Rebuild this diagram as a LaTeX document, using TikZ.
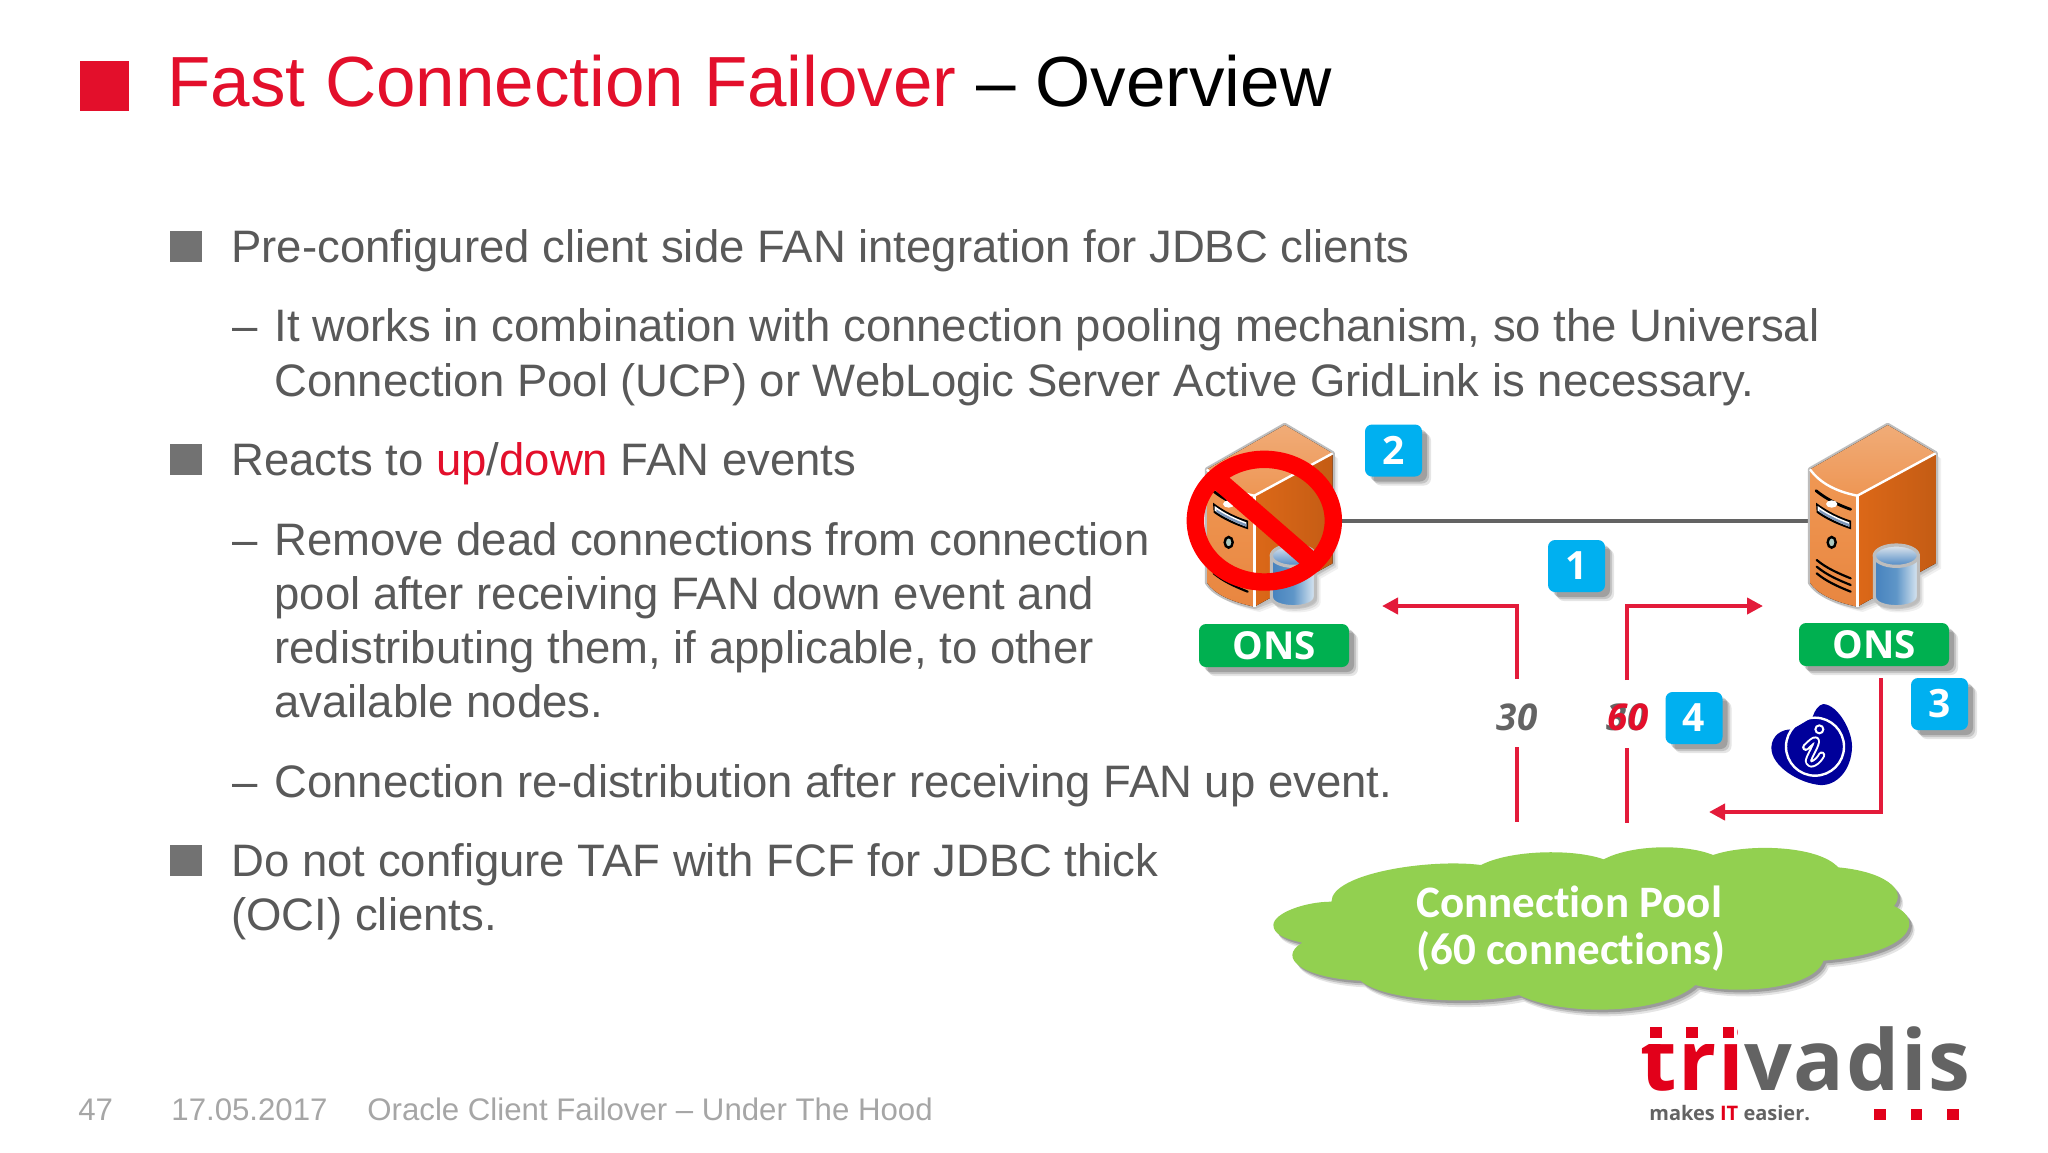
\documentclass[tikz,border=0pt]{standalone}
\usepackage{fontspec}
\setmainfont{Liberation Sans}
\newfontfamily\opensans{Open Sans}
\newfontfamily\logofont[LetterSpace=2.2]{Open Sans}
\newfontfamily\cloudfont[Ligatures=NoCommon]{Carlito}
\usetikzlibrary{arrows.meta}
\definecolor{bodygray}{HTML}{595959}
\definecolor{footgray}{HTML}{A6A6A6}
\definecolor{tvred}{HTML}{E30F2B}
\definecolor{lnred}{HTML}{E31B3A}
\definecolor{logored}{HTML}{E2001A}
\definecolor{logogray}{HTML}{636363}
\definecolor{onsgreen}{HTML}{00B050}
\definecolor{numblue}{HTML}{00B0F0}
\definecolor{cloudgreen}{HTML}{92D050}
\definecolor{infoblue}{HTML}{00009A}
\definecolor{halo}{HTML}{BDBDBD}
\definecolor{rfA}{HTML}{DC6818}
\definecolor{rfB}{HTML}{C45C14}
\definecolor{ffA}{HTML}{F09854}
\definecolor{ffB}{HTML}{E88640}
\definecolor{tfA}{HTML}{F0AC78}
\definecolor{tfB}{HTML}{EE9654}
\definecolor{slotblue}{HTML}{7D96B9}
\definecolor{btn}{HTML}{AAC8BE}
\definecolor{cyA}{HTML}{4682BE}
\definecolor{cyB}{HTML}{5F96C8}
\definecolor{cyC}{HTML}{DCE8F2}
\definecolor{ctA}{HTML}{E2E8EE}
\definecolor{ctB}{HTML}{4B87C3}
\tikzset{
  softshadow/.style={
    preaction={fill=black,opacity=.10,draw=none,transform canvas={shift={(4.5pt,-4.5pt)}}},
    preaction={fill=black,opacity=.14,draw=none,transform canvas={shift={(3.5pt,-3.5pt)}}},
    preaction={fill=black,opacity=.18,draw=none,transform canvas={shift={(2.5pt,-2.5pt)}}}},
  bodytext/.style={anchor=base west,inner sep=0pt,text=bodygray,font=\fontsize{22.75}{27}\selectfont},
  foottext/.style={anchor=base west,inner sep=0pt,text=footgray,font=\fontsize{15.6}{19}\selectfont},
  titletext/.style={anchor=base west,inner sep=0pt,font=\fontsize{35.5}{42}\selectfont},
  sqbullet/.style={fill=#1,draw=none},
  numbadge/.style={fill=numblue,rounded corners=3.5pt,minimum width=28.5pt,minimum height=26pt,inner sep=0pt,
    text=white,font=\opensans\bfseries\fontsize{19.5}{22}\selectfont,softshadow},
  onsbadge/.style={fill=onsgreen,rounded corners=3.5pt,minimum width=75pt,minimum height=21.5pt,inner sep=0pt,
    text=white,font=\opensans\bfseries\fontsize{19.3}{22}\selectfont,softshadow},
  countlabel/.style={inner sep=0pt,font=\opensans\bfseries\itshape\fontsize{18.4}{21}\selectfont},
  cloudtext/.style={anchor=base west,inner sep=0pt,text=white,font=\cloudfont\bfseries\fontsize{22.5}{27}\selectfont},
  redline/.style={draw=lnred,line width=2pt},
  redarrow/.style={redline,-{Triangle[length=8pt,width=8pt]}},
  linkline/.style={draw=logogray,line width=2pt}
}
\newcommand{\serverpic}{%
  % soft shadow
  \foreach \d/\o in {16/.06,11/.08,6/.10}{
    \fill[black,opacity=\o,shift={(\d,\d)}]
      (180,178) -- (413,45) -- (557,130) -- (557,460) -- (505,490) -- (505,560)
      .. controls (505,600) and (373,600) .. (373,570) -- (322,590)
      .. controls (250,575) and (200,550) .. (180,518) -- cycle;
  }
  % halo
  \draw[halo,line width=2.2pt,line join=round,fill=halo]
    (180,178) -- (413,45) -- (557,130) -- (557,460) -- (322,590)
    .. controls (250,575) and (200,550) .. (180,518) -- cycle;
  % right face
  \fill[left color=rfA,right color=rfB]
    (322,257) -- (557,130) -- (557,460) -- (322,590) -- cycle;
  % front face
  \fill[top color=ffA,bottom color=ffB]
    (180,178) .. controls (210,220) and (260,245) .. (322,257) -- (322,590)
    .. controls (250,575) and (200,550) .. (180,518) -- cycle;
  % top face
  \fill[top color=tfA,bottom color=tfB]
    (180,178) -- (413,45) -- (557,130) -- (322,257)
    .. controls (260,245) and (210,220) .. (180,178) -- cycle;
  \draw[white,line width=1.2pt] (180,178) .. controls (210,220) and (260,245) .. (322,257) -- (557,130);
  \draw[white,line width=1.2pt] (322,257) -- (322,590);
  % drive slots
  \draw[black,line width=1.4pt,line cap=round] (198,242) .. controls (230,268) and (265,285) .. (302,298);
  \fill[white] (245,282) ellipse [x radius=17,y radius=11];
  \fill[black] (198,278) .. controls (230,302) and (265,320) .. (303,332) -- (303,358)
    .. controls (265,345) and (230,330) .. (200,308) -- cycle;
  \fill[white] (203,288) .. controls (232,310) and (265,325) .. (298,337) -- (298,350)
    .. controls (265,338) and (232,322) .. (203,302) -- cycle;
  \fill[slotblue] (208,298) .. controls (235,316) and (265,330) .. (298,342) -- (298,350)
    .. controls (265,338) and (232,322) .. (208,306) -- cycle;
  \draw[black,line width=1.2pt,fill=btn] (245,397) ellipse [x radius=12,y radius=16];
  % vents
  \draw[black,line width=1.1pt,line cap=round] (200,450) .. controls (230,475) and (265,490) .. (302,505);
  \draw[black,line width=1.1pt,line cap=round] (200,470) .. controls (230,495) and (265,510) .. (302,525);
  \draw[black,line width=1.1pt,line cap=round] (200,490) .. controls (230,515) and (265,530) .. (302,545);
  % cylinder
  \draw[halo,line width=1.6pt,left color=cyA,right color=cyC,middle color=cyB]
    (373,437) -- (373,560) .. controls (373,600) and (505,600) .. (505,560) -- (505,437) -- cycle;
  \draw[halo,line width=1.6pt,top color=ctA,bottom color=ctB]
    (439,437) ellipse [x radius=66,y radius=32];
}
\newcommand{\cloudpath}{(30,285) .. controls (30,250) and (100,215) .. (160,215)
  .. controls (160,130) and (380,85) .. (495,105)
  .. controls (560,60) and (700,55) .. (770,88)
  .. controls (830,45) and (950,40) .. (1015,75)
  .. controls (1090,40) and (1250,45) .. (1295,112)
  .. controls (1400,125) and (1450,180) .. (1420,228)
  .. controls (1490,270) and (1460,370) .. (1262,392)
  .. controls (1240,480) and (1060,495) .. (975,465)
  .. controls (900,555) and (680,560) .. (580,495)
  .. controls (480,525) and (280,515) .. (225,452)
  .. controls (100,445) and (35,385) .. (95,338)
  .. controls (50,325) and (30,310) .. (30,285) -- cycle}
\begin{document}
\begin{tikzpicture}[x=0.5pt,y=-0.5pt]
\useasboundingbox (0,0) rectangle (2048,1152);
\fill[white] (0,0) rectangle (2048,1152);

% --- title ---
\fill[sqbullet=tvred] (80,61) rectangle (129,111);
\node[titletext] (title) at (167,106) {\textcolor{tvred}{Fast Connection Failover} \textcolor{black}{– Overview}};

% --- bullets ---
\fill[sqbullet=bodygray!85] (170,231) rectangle (202,262);
\fill[sqbullet=bodygray!85] (170,444) rectangle (202,475);
\fill[sqbullet=bodygray!85] (170,845) rectangle (202,876);
\node[bodytext] (b1) at (231,262) {Pre-configured client side FAN integration for JDBC clients};
\node[bodytext] (d1) at (232,341) {–};
\node[bodytext] (b1a) at (274,341) {It works in combination with connection pooling mechanism, so the Universal};
\node[bodytext] (b1b) at (274,396) {Connection Pool (UCP) or WebLogic Server Active GridLink is necessary.};
\node[bodytext] (b2) at (231,475) {Reacts to \textcolor{tvred}{up}/\textcolor{tvred}{down} FAN events};
\node[bodytext] (d2) at (232,555) {–};
\node[bodytext] (b2a) at (274,555) {Remove dead connections from connection};
\node[bodytext] (b2b) at (274,609) {pool after receiving FAN down event and};
\node[bodytext] (b2c) at (274,663) {redistributing them, if applicable, to other};
\node[bodytext] (b2d) at (274,717) {available nodes.};
\node[bodytext] (d3) at (232,797) {–};
\node[bodytext] (b2e) at (274,797) {Connection re-distribution after receiving FAN up event.};
\node[bodytext] (b3a) at (231,876) {Do not configure TAF with FCF for JDBC thick};
\node[bodytext] (b3b) at (231,930) {(OCI) clients.};

% --- footer ---
\node[foottext] (f1) at (78,1120) {47};
\node[foottext] (f2) at (171,1120) {17.05.2017};
\node[foottext] (f3) at (367,1120) {Oracle Client Failover – Under The Hood};

% --- servers ---
\coordinate (srvL) at (1342,521);
\coordinate (srvR) at (1808,521);
\draw[linkline] (srvL) -- (srvR);
\begin{scope}[shift={(1750,410)},scale=0.33333]
  \serverpic
\end{scope}
\begin{scope}[shift={(1147,410)},scale=0.33333]
  \serverpic
\end{scope}
% prohibition sign, in the left server's frame
\begin{scope}[shift={(1160,410)},scale=0.33333]
  \draw[red,line width=8.7pt] (313,332) ellipse [x radius=207,y radius=184];
  \draw[red,line width=9.4pt] (170,207) -- (455,455);
\end{scope}

% --- badges ---
\node[onsbadge] (onsL) at (1274,645.5) {\raisebox{-0.6pt}{ONS}};
\node[onsbadge] (onsR) at (1874,644.5) {\raisebox{-0.6pt}{ONS}};
\node[numbadge] (n2) at (1393.5,450.5) {\raisebox{-0.6pt}{2}};
\node[numbadge] (n1) at (1576.5,566) {\raisebox{-0.6pt}{1}};
\node[numbadge] (n4) at (1694,718) {\raisebox{-0.6pt}{4}};
\node[numbadge] (n3) at (1939.5,704) {\raisebox{-0.6pt}{3}};

% --- red connectors ---
\coordinate (a1) at (1517,679);
\coordinate (a2) at (1382,606);
\coordinate (a3) at (1517,747);
\coordinate (a4) at (1517,822);
\coordinate (b1s) at (1627,680);
\coordinate (b2s) at (1763,606);
\coordinate (b3s) at (1627,748);
\coordinate (b4s) at (1627,823);
\coordinate (c1) at (1881,678);
\coordinate (c2) at (1709,812);
\draw[redarrow] (a1) |- (a2);
\draw[redline] (a3) -- (a4);
\draw[redarrow] (b1s) |- (b2s);
\draw[redline] (b3s) -- (b4s);
\draw[redarrow] (c1) |- (c2);

\node[countlabel,text=logogray] (n30) at (1517,717) {30};
\node[countlabel,text=logogray] (n30b) at (1627,717) {30};
\node[countlabel,text=tvred] (n60) at (1628,717) {60};

% --- info icon ---
\begin{scope}[shift={(1480,660)},scale=0.33333]
  \fill[infoblue] (1030,132) .. controls (1075,135) and (1118,215) .. (1116,262)
    .. controls (1114,330) and (1070,378) .. (1020,375)
    .. controls (960,370) and (873,320) .. (874,262)
    .. controls (876,225) and (905,208) .. (935,208)
    .. controls (960,195) and (985,180) .. (998,170)
    .. controls (1005,150) and (1015,135) .. (1030,132) -- cycle;
  \draw[white,line width=1.2pt] (1005,260) circle [radius=87];
  \draw[white,line width=3.6pt,line cap=round,line join=round]
    (977,262) .. controls (990,250) and (1000,238) .. (1008,240)
    .. controls (1015,250) and (985,290) .. (985,305)
    .. controls (990,322) and (1015,305) .. (1025,285);
  \draw[infoblue,line width=1.6pt,line cap=round,line join=round]
    (977,262) .. controls (990,250) and (1000,238) .. (1008,240)
    .. controls (1015,250) and (985,290) .. (985,305)
    .. controls (990,322) and (1015,305) .. (1025,285);
  \draw[white,line width=1pt] (1018,208) circle [radius=12];
\end{scope}

% --- cloud ---
\begin{scope}[shift={(1260,830)},xscale=0.44643,yscale=0.33333]
  \begin{scope}[shift={(12,20)}]\fill[black,opacity=.10] \cloudpath;\end{scope}
  \begin{scope}[shift={(9,14)}]\fill[black,opacity=.15] \cloudpath;\end{scope}
  \begin{scope}[shift={(6,8)}]\fill[black,opacity=.20] \cloudpath;\end{scope}
  \fill[cloudgreen] \cloudpath;
\end{scope}
\node[cloudtext] (pool1) at (1416,917) {Connection Pool};
\node[cloudtext] (pool2) at (1416,964) {(60 connections)};

% --- logo ---
\node[anchor=base west,inner sep=0pt,font=\logofont\bfseries\fontsize{42}{48}\selectfont] (logo) at (1640,1090)
  {\textcolor{logored}{tri}\textcolor{logogray}{vadis}};
\begin{scope}[shift={(1620,1010)},scale=0.33333]
  \fill[white] (60,20) rectangle (350,103);
  \fill[logored] (90,50) rectangle (125,84);
  \fill[logored] (198,50) rectangle (233,84);
  \fill[logored] (308,50) rectangle (343,84);
  \fill[logored] (763,297) rectangle (797,331);
  \fill[logored] (873,297) rectangle (907,331);
  \fill[logored] (982,297) rectangle (1016,331);
\end{scope}
\node[anchor=base west,inner sep=0pt,text=logogray,font=\opensans\bfseries\fontsize{10}{12}\selectfont] (slogan) at (1649,1120)
  {makes \textcolor{logored}{IT} easier.};
\end{tikzpicture}
\end{document}
